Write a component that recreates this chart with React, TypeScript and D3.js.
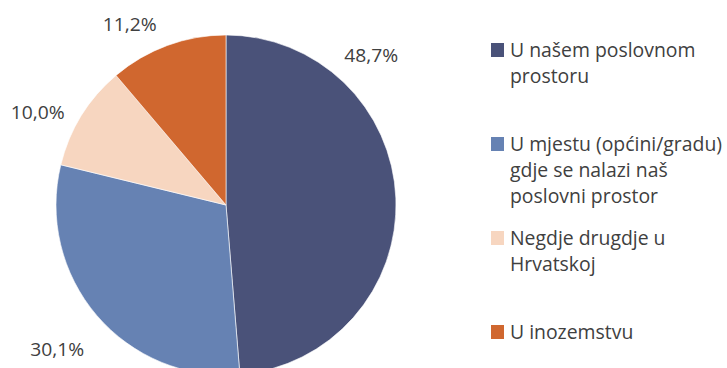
import React from "react";
import * as d3 from "d3";

const categories: string[][] = [
  ["U našem poslovnom", "prostoru"],
  ["U mjestu (općini/gradu)", "gdje se nalazi naš", "poslovni prostor"],
  ["Negdje drugdje u", "Hrvatskoj"],
  ["U inozemstvu"],
];
const values: number[] = [48.7, 30.1, 10.0, 11.2];
const valueLabels: string[] = ["48,7%", "30,1%", "10,0%", "11,2%"];
const colors: string[] = ["#4A5279", "#6682B3", "#F7D6C0", "#D0672F"];

// label placement: fraction of the slice angle and distance from center
const labelFrac: number[] = [0.251, 0.5, 0.35, 0.305];
const labelDist: number[] = [209, 222, 210, 205];

const W = 727;
const H = 368;
const cx = 226;
const cy = 205;
const R = 170;

export default function App() {
  const pie = d3.pie<number>().sort(null).value((d) => d);
  const arcs = pie(values);
  const arc = d3.arc<d3.PieArcDatum<number>>().innerRadius(0).outerRadius(R);

  const legendY = d3.scaleLinear().domain([0, 3]).range([57, 339]);

  return (
    <svg
      width={W}
      height={H}
      style={{ position: "absolute", left: 0, top: 0, background: "#fff" }}
      fontFamily="'Open Sans', sans-serif"
    >
      <g transform={`translate(${cx},${cy})`}>
        {arcs.map((a, i) => (
          <path key={i} d={arc(a) || ""} fill={colors[i]} stroke="#fff" strokeWidth={0.6} />
        ))}
        {arcs.map((a, i) => {
          const ang = a.startAngle + (a.endAngle - a.startAngle) * labelFrac[i];
          const x = Math.sin(ang) * labelDist[i];
          const y = -Math.cos(ang) * labelDist[i];
          return (
            <text
              key={i}
              x={x}
              y={y + 7}
              textAnchor="middle"
              fontSize={19}
              fill="#404040"
              textLength={54}
              lengthAdjust="spacingAndGlyphs"
            >
              {valueLabels[i]}
            </text>
          );
        })}
      </g>
      <g>
        {categories.map((lines, i) => {
          const by = legendY(i);
          return (
            <g key={i}>
              <rect x={491} y={by - 14} width={13} height={14} fill={colors[i]} />
              {lines.map((t, j) => (
                <text key={j} x={510} y={by + j * 26} fontSize={19.4} fill="#404040">
                  {t}
                </text>
              ))}
            </g>
          );
        })}
      </g>
    </svg>
  );
}
